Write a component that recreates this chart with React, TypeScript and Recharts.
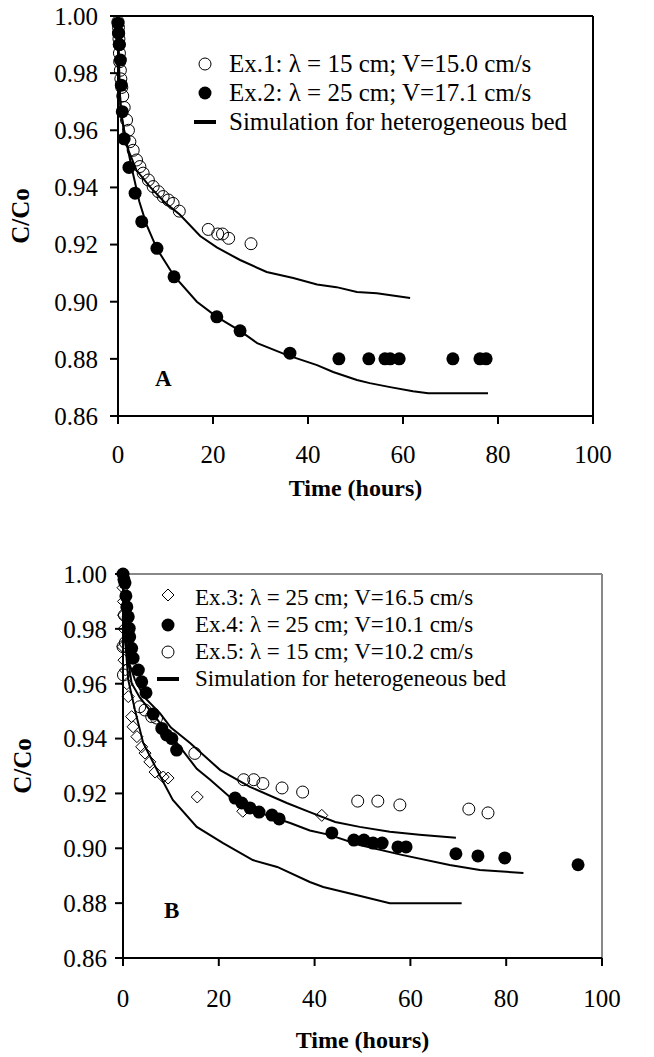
import React from 'react'
import { ScatterChart, Scatter, XAxis, YAxis, ReferenceLine } from 'recharts'

// [hours, C/Co]
const ex1: [number, number][] = [
  [0, 0.998], [0.1, 0.996], [0.15, 0.994], [0.2, 0.992], [0.25, 0.99], [0.3, 0.987],
  [0.35, 0.984], [0.5, 0.981], [0.6, 0.978], [0.8, 0.975], [1.0, 0.972], [1.3, 0.968],
  [1.8, 0.9636], [2.2, 0.96], [2.5, 0.956], [3.2, 0.953], [3.9, 0.9496], [4.6, 0.9473],
  [5.3, 0.945], [6.4, 0.9426], [7.4, 0.9403], [8.5, 0.9385], [9.5, 0.9368], [10.6, 0.9356],
  [11.6, 0.9344], [12.9, 0.9317], [19, 0.9253], [21, 0.9237], [22, 0.9237], [23.3, 0.9222],
  [28, 0.9203],
]
const ex2: [number, number][] = [
  [0, 0.9975], [0.1, 0.994], [0.3, 0.99], [0.5, 0.9846], [0.7, 0.9758], [0.9, 0.9665],
  [1.3, 0.957], [2.3, 0.947], [3.6, 0.938], [5, 0.928], [8.2, 0.9187], [11.8, 0.9087],
  [20.8, 0.8947], [25.7, 0.8898], [36.2, 0.882], [46.5, 0.88], [52.8, 0.88], [56.2, 0.88],
  [57.3, 0.88], [59.2, 0.88], [70.5, 0.88], [76.2, 0.88], [77.5, 0.88],
]
const sim1: [number, number][] = [
  [0, 1.0], [0.1, 0.99], [0.3, 0.975], [0.8, 0.964], [1.5, 0.958], [2.2, 0.953],
  [3.9, 0.946], [6.7, 0.9403], [10, 0.9345], [13, 0.9305], [17.3, 0.923], [20.8, 0.919],
  [25.7, 0.9146], [31.3, 0.9104], [36.9, 0.9083], [41.9, 0.906], [46, 0.9051],
  [50.3, 0.9034], [54.5, 0.903], [61.5, 0.9013],
]
const sim2: [number, number][] = [
  [0, 1.0], [0.1, 0.99], [0.3, 0.978], [0.5, 0.968], [1.5, 0.958], [3, 0.946],
  [4.5, 0.935], [6, 0.927], [8.2, 0.9185], [11.8, 0.909], [16.6, 0.9], [20.8, 0.8947],
  [25.7, 0.8898], [29.3, 0.8855], [35.6, 0.8813], [41.9, 0.8778], [45.3, 0.8754],
  [50.3, 0.8726], [53, 0.8715], [57.3, 0.8701], [62.1, 0.8687], [65.3, 0.868], [77.9, 0.868],
]

const ex3: [number, number][] = [
  [0, 0.995], [0.1, 0.99], [0.1, 0.985], [0.2, 0.98], [0, 0.9735], [0.2, 0.9686],
  [0.5, 0.965], [0.8, 0.96], [1.1, 0.9553], [1.8, 0.948], [2.1, 0.9443], [2.9, 0.9407],
  [3.9, 0.937], [4.6, 0.9347], [5.6, 0.9315], [6.7, 0.9278], [8.4, 0.926], [9.4, 0.9256],
  [15.5, 0.9187], [25, 0.9135], [41.5, 0.912],
]
const ex4: [number, number][] = [
  [0, 1.0], [0.2, 0.998], [0.4, 0.9967], [0.6, 0.992], [0.8, 0.988], [1.1, 0.9844],
  [1.3, 0.9802], [1.4, 0.9771], [1.8, 0.9729], [2.1, 0.9693], [3.2, 0.965], [3.9, 0.9607],
  [4.8, 0.9567], [6.3, 0.949], [8.1, 0.9437], [9.1, 0.9413], [10.2, 0.94], [11.2, 0.9358],
  [23.4, 0.9183], [24.8, 0.9165], [26.5, 0.9147], [28.4, 0.9132], [31.1, 0.9121],
  [32.6, 0.9107], [43.6, 0.9056], [48.2, 0.903], [50.3, 0.903], [52.2, 0.9019],
  [54.1, 0.9019], [57.4, 0.9005], [59.1, 0.9005], [69.5, 0.898], [74.1, 0.8972],
  [79.7, 0.8965], [95, 0.894],
]
const ex5: [number, number][] = [
  [0.3, 0.985], [0.5, 0.975], [0, 0.9735], [0.1, 0.9632], [3.5, 0.9516], [4.6, 0.9504],
  [6, 0.948], [7, 0.9475], [15, 0.9346], [25.2, 0.925], [27.3, 0.925], [29.2, 0.9236],
  [33.2, 0.922], [37.5, 0.9205], [49, 0.9172], [53.2, 0.9172], [57.8, 0.9158],
  [72.2, 0.9143], [76.2, 0.9129],
]
const sim3: [number, number][] = [
  [0, 1.0], [0.1, 0.99], [0.4, 0.9771], [1.1, 0.9614], [2.5, 0.9504], [4.2, 0.9385],
  [7.7, 0.9265], [10.4, 0.9176], [15.4, 0.9078], [20.9, 0.9019], [27.1, 0.8957],
  [32.2, 0.8932], [39, 0.8877], [41.8, 0.8859], [48.7, 0.883], [55.7, 0.88], [70.7, 0.88],
]
const sim4: [number, number][] = [
  [0, 1.0], [0.1, 0.99], [0.5, 0.975], [1.8, 0.9602], [3.5, 0.955], [5.6, 0.9504],
  [8.5, 0.944], [11.2, 0.9385], [15.4, 0.929], [18.2, 0.925], [22.3, 0.9187],
  [28.6, 0.9129], [34.9, 0.9092], [39, 0.9065], [43.1, 0.9049], [49.4, 0.9012],
  [58.2, 0.8976], [68.2, 0.8939], [74.5, 0.8921], [83.6, 0.891],
]
const sim5: [number, number][] = [
  [0, 1.0], [0.1, 0.99], [0.5, 0.978], [1.2, 0.968], [2.5, 0.9614], [4.5, 0.955],
  [7.7, 0.9493], [10, 0.944], [14, 0.9384], [20.3, 0.9285], [26.5, 0.9224],
  [34.2, 0.9165], [39, 0.9132], [44.3, 0.9096], [49.4, 0.9078], [55.7, 0.906],
  [61.9, 0.9049], [69.5, 0.9038],
]

const xTicks = [0, 20, 40, 60, 80, 100]
const yTicks = [0.86, 0.88, 0.9, 0.92, 0.94, 0.96, 0.98, 1.0]

const legendTop = [
  'Ex.1: λ = 15 cm; V=15.0 cm/s',
  'Ex.2: λ = 25 cm; V=17.1 cm/s',
  'Simulation for heterogeneous bed',
]
const legendBottom = [
  'Ex.3: λ = 25 cm; V=16.5 cm/s',
  'Ex.4: λ = 25 cm; V=10.1 cm/s',
  'Ex.5: λ = 15 cm; V=10.2 cm/s',
  'Simulation for heterogeneous bed',
]

const FONT = '"Liberation Serif", "Times New Roman", serif'

const pts = (arr: [number, number][]) => arr.map(([x, y]) => ({ x, y }))

const OpenCircle = (p: any) => (
  <circle cx={p.cx} cy={p.cy} r={6} fill="none" stroke="#000" strokeWidth={1} />
)
const FilledCircle = (p: any) => <circle cx={p.cx} cy={p.cy} r={6.5} fill="#000" />
const Diamond = (p: any) => (
  <path
    d={`M${p.cx},${p.cy - 6}L${p.cx + 6},${p.cy}L${p.cx},${p.cy + 6}L${p.cx - 6},${p.cy}Z`}
    fill="none"
    stroke="#000"
    strokeWidth={1}
  />
)
const NoShape = () => <g />

function Marker({ kind }: { kind: string }) {
  return (
    <svg width={26} height={20} style={{ display: 'block' }}>
      {kind === 'open' && <circle cx={13} cy={10} r={6} fill="none" stroke="#000" />}
      {kind === 'filled' && <circle cx={13} cy={10} r={6.5} fill="#000" />}
      {kind === 'diamond' && <path d="M13,1L19,7L13,13L7,7Z" fill="none" stroke="#000" />}
      {kind === 'line' && <line x1={2} y1={10} x2={24} y2={10} stroke="#000" strokeWidth={4} />}
    </svg>
  )
}

function LegendBox({ labels, kinds, fontSize, lineHeight, gap, style }: any) {
  return (
    <div
      style={{
        position: 'absolute',
        fontFamily: FONT,
        fontSize,
        lineHeight: `${lineHeight}px`,
        color: '#000',
        ...style,
      }}
    >
      {labels.map((l: string, i: number) => (
        <div key={l} style={{ whiteSpace: 'nowrap', display: 'flex', alignItems: 'center', height: lineHeight }}>
          <Marker kind={kinds[i]} />
          <span style={{ marginLeft: gap }}>{l}</span>
        </div>
      ))}
    </div>
  )
}

const tickStyle = (size: number) => ({ fill: '#000', fontSize: size, fontFamily: FONT })
const titleStyle = { fontFamily: FONT, fontSize: 24, fontWeight: 'bold', fill: '#000' }

function Panel({
  top, height, margin, yWidth, xHeight, xMargin, yMargin, titleOffset, yTitleOffset, frame, children,
}: any) {
  return (
    <div style={{ position: 'absolute', top, left: 0 }}>
      <ScatterChart width={654} height={height} margin={margin}>
        <XAxis
          dataKey="x"
          type="number"
          domain={[0, 100]}
          ticks={xTicks}
          height={xHeight}
          tick={tickStyle(25)}
          tickSize={8}
          tickMargin={xMargin}
          stroke="#000"
          strokeWidth={2}
          label={{ value: 'Time (hours)', position: 'insideBottom', offset: titleOffset, style: titleStyle }}
        />
        <YAxis
          dataKey="y"
          type="number"
          domain={[0.86, 1.0]}
          ticks={yTicks}
          width={yWidth}
          tick={tickStyle(25)}
          tickSize={8}
          tickMargin={yMargin}
          tickFormatter={(v: number) => v.toFixed(2)}
          stroke="#000"
          strokeWidth={2}
          label={{
            value: 'C/Co',
            angle: -90,
            position: 'insideLeft',
            offset: yTitleOffset,
            style: { ...titleStyle, fontSize: 25, textAnchor: 'middle' },
          }}
        />
        <ReferenceLine y={1.0} stroke={frame} strokeWidth={2} />
        <ReferenceLine x={100} stroke={frame} strokeWidth={2} />
        {children}
      </ScatterChart>
    </div>
  )
}

const simLine = { stroke: '#000', strokeWidth: 2 }

export default function App() {
  return (
    <div style={{ position: 'absolute', top: 0, left: 0, width: 654, height: 1057, background: '#fff' }}>
      <Panel
        top={0}
        height={520}
        margin={{ top: 16, right: 61, left: 0, bottom: 4 }}
        yWidth={118}
        xHeight={100}
        xMargin={21}
        yMargin={12}
        titleOffset={20}
        yTitleOffset={20}
        frame="#000"
      >
        <Scatter name="sim1" data={pts(sim1)} line={simLine} lineType="joint" shape={NoShape} isAnimationActive={false} />
        <Scatter name="sim2" data={pts(sim2)} line={simLine} lineType="joint" shape={NoShape} isAnimationActive={false} />
        <Scatter name="ex1" data={pts(ex1)} shape={OpenCircle} isAnimationActive={false} />
        <Scatter name="ex2" data={pts(ex2)} shape={FilledCircle} isAnimationActive={false} />
      </Panel>
      <LegendBox
        labels={legendTop}
        kinds={['open', 'filled', 'line']}
        fontSize={25}
        lineHeight={29}
        gap={11}
        style={{ top: 49, left: 192 }}
      />
      <div style={{ position: 'absolute', left: 155, top: 366, fontFamily: FONT, fontSize: 23, fontWeight: 'bold' }}>
        A
      </div>

      <Panel
        top={540}
        height={517}
        margin={{ top: 34, right: 52, left: 0, bottom: 4 }}
        yWidth={123}
        xHeight={95}
        xMargin={23}
        yMargin={8}
        titleOffset={5}
        yTitleOffset={22}
        frame="#888"
      >
        <Scatter name="sim3" data={pts(sim3)} line={simLine} lineType="joint" shape={NoShape} isAnimationActive={false} />
        <Scatter name="sim4" data={pts(sim4)} line={simLine} lineType="joint" shape={NoShape} isAnimationActive={false} />
        <Scatter name="sim5" data={pts(sim5)} line={simLine} lineType="joint" shape={NoShape} isAnimationActive={false} />
        <Scatter name="ex3" data={pts(ex3)} shape={Diamond} isAnimationActive={false} />
        <Scatter name="ex4" data={pts(ex4)} shape={FilledCircle} isAnimationActive={false} />
        <Scatter name="ex5" data={pts(ex5)} shape={OpenCircle} isAnimationActive={false} />
      </Panel>
      <LegendBox
        labels={legendBottom}
        kinds={['diamond', 'filled', 'open', 'line']}
        fontSize={23}
        lineHeight={27}
        gap={14}
        style={{ top: 584, left: 155 }}
      />
      <div style={{ position: 'absolute', left: 164, top: 898, fontFamily: FONT, fontSize: 23, fontWeight: 'bold' }}>
        B
      </div>
    </div>
  )
}
